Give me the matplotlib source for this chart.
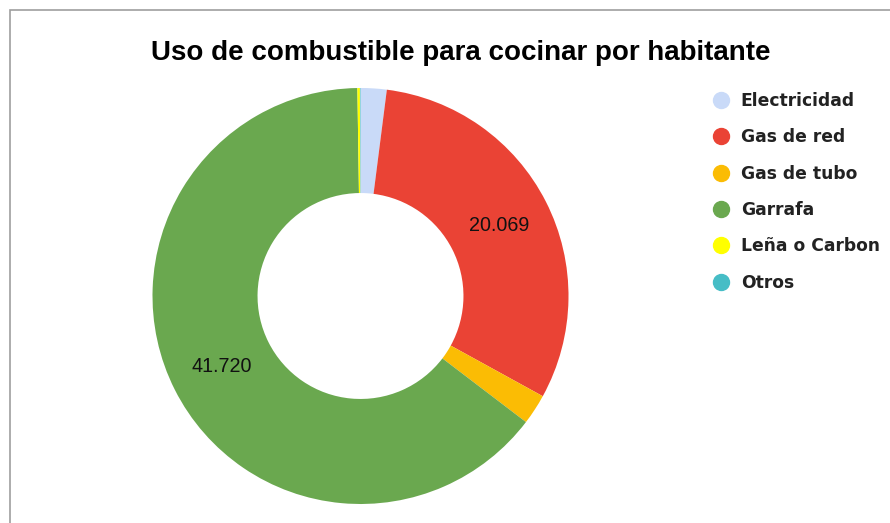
import matplotlib.pyplot as plt
from matplotlib.lines import Line2D
from matplotlib.patches import Rectangle
import numpy as np

# data (people per fuel type)
labels = ['Electricidad', 'Gas de red', 'Gas de tubo', 'Garrafa', 'Leña o Carbon', 'Otros']
values = [1310, 20069, 1530, 41720, 125, 30]
colors = ['#c9daf8', '#ea4335', '#fbbc04', '#6aa84f', '#ffff00', '#46bdc6']
shown = ['Gas de red', 'Garrafa']

W, H = 890, 523
fig = plt.figure(figsize=(W / 100, H / 100), dpi=100)

# chart border (cropped screenshot: only top/left visible)
fig.patches.append(Rectangle((10 / W, -0.1), 1.2, (H - 10) / H + 0.1,
                             transform=fig.transFigure, fill=False,
                             edgecolor='#9e9e9e', linewidth=1.2))

cx, cy, r = 360.5, 296, 208
ax = fig.add_axes([(cx - r) / W, (H - cy - r) / H, 2 * r / W, 2 * r / H])


def fmt(v):
    return '{:,}'.format(v).replace(',', '.')


wedges, _ = ax.pie(values, colors=colors, startangle=90, counterclock=False,
                   radius=1, wedgeprops=dict(width=0.505, linewidth=0))
ax.set_xlim(-1, 1)
ax.set_ylim(-1, 1)
ax.set_aspect('equal')
ax.axis('off')

tot = sum(values)
start = 90.0
for lab, v in zip(labels, values):
    ang = start - v / tot * 180.0
    if lab in shown:
        a = np.deg2rad(ang)
        ax.text(0.748 * np.cos(a), 0.748 * np.sin(a), fmt(v), ha='center', va='center',
                fontsize=14.2, family='Liberation Sans', color='#111111')
    start -= v / tot * 360.0

fig.text(461 / W, 1 - 53 / H, 'Uso de combustible para cocinar por habitante',
         ha='center', va='center', fontsize=20, fontweight='bold',
         family='Liberation Sans', color='#000000')

handles = [Line2D([], [], marker='o', linestyle='none', markersize=11.5,
                  markerfacecolor=c, markeredgecolor=c) for c in colors]
leg = fig.legend(handles, labels, loc='upper left',
                 bbox_to_anchor=(712 / W, 1 - 92 / H), frameon=False,
                 prop=dict(family='DejaVu Sans', weight='bold', size=12.3),
                 handlelength=1.0, handletextpad=0.68, labelspacing=1.075,
                 borderpad=0, borderaxespad=0)
for t in leg.get_texts():
    t.set_color('#222222')

fig.savefig('out.png', dpi=100, facecolor='white')
